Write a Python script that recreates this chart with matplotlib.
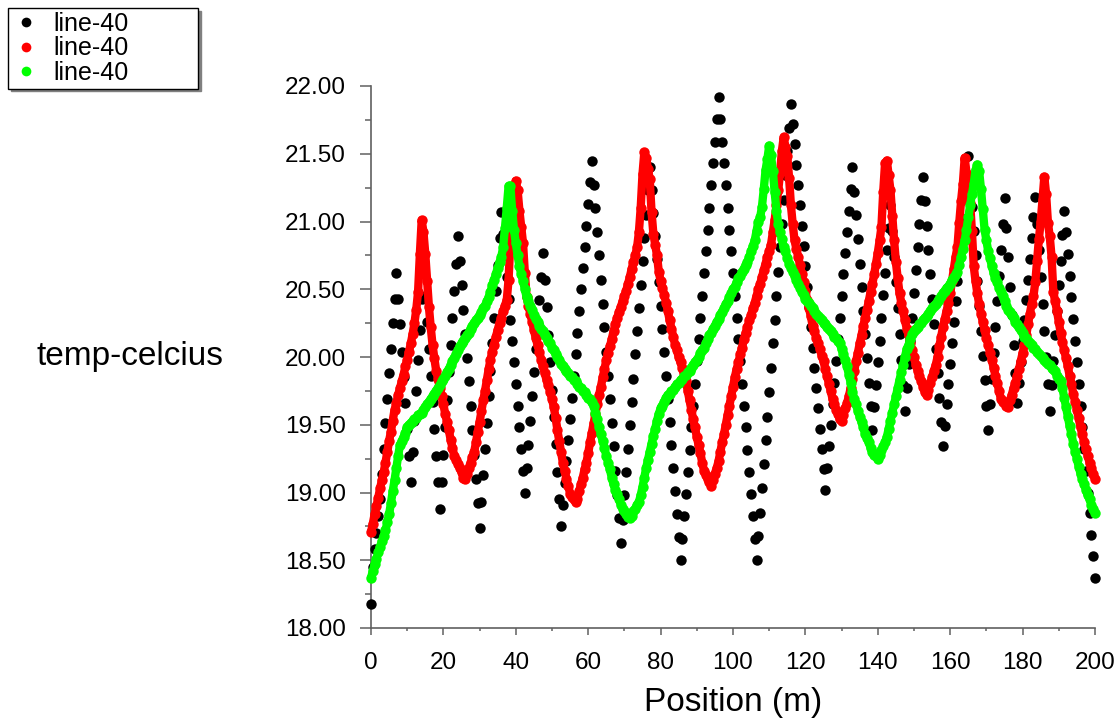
import numpy as np
import matplotlib
matplotlib.use("Agg")
import matplotlib.pyplot as plt
from matplotlib.lines import Line2D
from matplotlib.ticker import MultipleLocator, FormatStrFormatter

plt.rcParams['font.family'] = ['Liberation Sans', 'DejaVu Sans']

# ---- data (sampled every 0.5 m along the line, 0..200 m) ----
STEP = 0.5
black_temp = [
    18.18, 18.45, 18.58, 18.70, 18.83, 18.95, 19.14, 19.32, 19.51, 19.69, 19.88, 20.06, 20.25, 20.43, 20.62, 20.43, 20.24, 20.04, 19.85, 19.66,
    19.47, 19.27, 19.08, 19.30, 19.53, 19.75, 19.98, 20.20, 20.43, 20.65, 20.45, 20.26, 20.06, 19.86, 19.67, 19.47, 19.27, 19.08, 18.88, 19.08,
    19.28, 19.48, 19.68, 19.89, 20.09, 20.29, 20.49, 20.69, 20.89, 20.71, 20.53, 20.35, 20.17, 19.99, 19.82, 19.64, 19.46, 19.28, 19.10, 18.92,
    18.74, 18.93, 19.13, 19.32, 19.51, 19.71, 19.90, 20.10, 20.29, 20.49, 20.68, 20.88, 21.07, 20.91, 20.75, 20.59, 20.43, 20.27, 20.12, 19.96,
    19.80, 19.64, 19.48, 19.32, 19.16, 19.00, 19.18, 19.35, 19.53, 19.71, 19.89, 20.06, 20.24, 20.42, 20.59, 20.77, 20.57, 20.37, 20.16, 19.96,
    19.76, 19.56, 19.36, 19.15, 18.95, 18.75, 18.91, 19.07, 19.23, 19.39, 19.54, 19.70, 19.86, 20.02, 20.18, 20.34, 20.50, 20.66, 20.81, 20.97,
    21.13, 21.29, 21.45, 21.27, 21.10, 20.92, 20.75, 20.57, 20.39, 20.22, 20.04, 19.86, 19.69, 19.51, 19.34, 19.16, 18.98, 18.81, 18.63, 18.80,
    18.98, 19.15, 19.32, 19.50, 19.67, 19.84, 20.02, 20.19, 20.36, 20.53, 20.71, 20.88, 21.05, 21.23, 21.40, 21.23, 21.06, 20.89, 20.72, 20.55,
    20.38, 20.21, 20.04, 19.86, 19.69, 19.52, 19.35, 19.18, 19.01, 18.84, 18.67, 18.50, 18.66, 18.83, 18.99, 19.15, 19.31, 19.48, 19.64, 19.80,
    19.97, 20.13, 20.29, 20.45, 20.62, 20.78, 20.94, 21.10, 21.27, 21.43, 21.59, 21.76, 21.92, 21.76, 21.59, 21.43, 21.27, 21.10, 20.94, 20.78,
    20.62, 20.45, 20.29, 20.13, 19.97, 19.80, 19.64, 19.48, 19.31, 19.15, 18.99, 18.83, 18.66, 18.50, 18.68, 18.85, 19.03, 19.21, 19.39, 19.56,
    19.74, 19.92, 20.10, 20.27, 20.45, 20.63, 20.81, 20.98, 21.16, 21.34, 21.52, 21.69, 21.87, 21.72, 21.57, 21.42, 21.27, 21.12, 20.97, 20.82,
    20.67, 20.52, 20.37, 20.22, 20.07, 19.92, 19.77, 19.62, 19.47, 19.32, 19.17, 19.02, 19.18, 19.34, 19.50, 19.65, 19.81, 19.97, 20.13, 20.29,
    20.45, 20.61, 20.77, 20.92, 21.08, 21.24, 21.40, 21.22, 21.05, 20.87, 20.69, 20.52, 20.34, 20.17, 19.99, 19.81, 19.64, 19.46, 19.63, 19.79,
    19.96, 20.12, 20.29, 20.46, 20.62, 20.79, 20.95, 21.12, 20.93, 20.74, 20.55, 20.36, 20.17, 19.98, 19.79, 19.60, 19.77, 19.95, 20.12, 20.29,
    20.47, 20.64, 20.81, 20.98, 21.16, 21.33, 21.15, 20.97, 20.79, 20.61, 20.43, 20.24, 20.06, 19.88, 19.70, 19.52, 19.34, 19.49, 19.65, 19.80,
    19.95, 20.10, 20.26, 20.41, 20.56, 20.72, 20.87, 21.02, 21.17, 21.33, 21.48, 21.30, 21.11, 20.93, 20.75, 20.56, 20.38, 20.19, 20.01, 19.83,
    19.64, 19.46, 19.65, 19.84, 20.03, 20.22, 20.41, 20.60, 20.79, 20.98, 21.17, 20.95, 20.74, 20.52, 20.31, 20.09, 19.88, 19.66, 19.81, 19.96,
    20.12, 20.27, 20.42, 20.57, 20.72, 20.88, 21.03, 21.18, 20.98, 20.79, 20.59, 20.39, 20.19, 20.00, 19.80, 19.60, 19.79, 19.97, 20.16, 20.34,
    20.53, 20.71, 20.90, 21.08, 20.92, 20.76, 20.60, 20.44, 20.28, 20.12, 19.96, 19.80, 19.64, 19.48, 19.32, 19.16, 19.00, 18.85, 18.69, 18.53,
    18.37,
]
red_temp = [
    18.71, 18.77, 18.84, 18.90, 18.96, 19.03, 19.09, 19.15, 19.22, 19.30, 19.38, 19.45, 19.53, 19.61, 19.66, 19.72, 19.77, 19.82, 19.87, 19.93,
    19.98, 20.04, 20.10, 20.17, 20.25, 20.35, 20.48, 20.76, 21.01, 20.92, 20.76, 20.56, 20.37, 20.22, 20.09, 19.99, 19.90, 19.84, 19.77, 19.71,
    19.65, 19.58, 19.52, 19.46, 19.39, 19.33, 19.27, 19.24, 19.21, 19.18, 19.15, 19.11, 19.10, 19.14, 19.18, 19.22, 19.26, 19.30, 19.37, 19.45,
    19.52, 19.60, 19.68, 19.75, 19.83, 19.91, 19.98, 20.04, 20.09, 20.15, 20.20, 20.25, 20.29, 20.34, 20.38, 20.42, 20.57, 20.85, 21.05, 21.20,
    21.30, 21.23, 21.08, 20.96, 20.84, 20.62, 20.44, 20.38, 20.32, 20.26, 20.20, 20.14, 20.09, 20.04, 19.98, 19.93, 19.88, 19.83, 19.79, 19.74,
    19.69, 19.63, 19.55, 19.46, 19.38, 19.30, 19.22, 19.16, 19.10, 19.05, 18.99, 18.97, 18.95, 18.93, 18.95, 19.01, 19.06, 19.11, 19.17, 19.22,
    19.29, 19.37, 19.44, 19.51, 19.58, 19.65, 19.72, 19.78, 19.85, 19.91, 19.98, 20.03, 20.08, 20.13, 20.19, 20.24, 20.29, 20.33, 20.37, 20.41,
    20.45, 20.49, 20.54, 20.59, 20.65, 20.70, 20.75, 20.81, 20.92, 21.10, 21.35, 21.51, 21.47, 21.39, 21.31, 21.07, 20.91, 20.83, 20.75, 20.63,
    20.56, 20.51, 20.46, 20.40, 20.34, 20.27, 20.21, 20.15, 20.09, 20.05, 20.00, 19.96, 19.92, 19.88, 19.82, 19.75, 19.68, 19.61, 19.54, 19.48,
    19.41, 19.35, 19.29, 19.22, 19.16, 19.13, 19.10, 19.08, 19.05, 19.09, 19.14, 19.18, 19.23, 19.30, 19.37, 19.43, 19.50, 19.57, 19.64, 19.71,
    19.78, 19.85, 19.91, 19.96, 20.02, 20.07, 20.13, 20.18, 20.22, 20.27, 20.31, 20.36, 20.40, 20.45, 20.50, 20.54, 20.59, 20.64, 20.69, 20.74,
    20.78, 20.83, 20.92, 21.01, 21.12, 21.23, 21.36, 21.52, 21.62, 21.55, 21.48, 21.32, 21.12, 20.98, 20.86, 20.80, 20.74, 20.68, 20.61, 20.55,
    20.49, 20.42, 20.36, 20.30, 20.23, 20.19, 20.14, 20.10, 20.06, 20.01, 19.97, 19.91, 19.86, 19.80, 19.75, 19.69, 19.65, 19.61, 19.58, 19.54,
    19.53, 19.57, 19.62, 19.66, 19.71, 19.77, 19.84, 19.90, 19.97, 20.03, 20.10, 20.16, 20.23, 20.29, 20.35, 20.41, 20.48, 20.54, 20.61, 20.69,
    20.77, 20.86, 20.96, 21.22, 21.43, 21.45, 21.34, 21.23, 21.04, 20.86, 20.70, 20.58, 20.47, 20.40, 20.34, 20.27, 20.21, 20.16, 20.10, 20.05,
    20.00, 19.94, 19.90, 19.86, 19.82, 19.78, 19.74, 19.72, 19.76, 19.81, 19.85, 19.90, 19.94, 20.00, 20.08, 20.15, 20.22, 20.28, 20.34, 20.40,
    20.47, 20.56, 20.65, 20.74, 20.81, 20.99, 21.15, 21.28, 21.47, 21.36, 21.25, 21.14, 20.93, 20.67, 20.56, 20.47, 20.39, 20.32, 20.26, 20.20,
    20.14, 20.09, 20.03, 19.98, 19.92, 19.86, 19.81, 19.75, 19.69, 19.67, 19.66, 19.64, 19.63, 19.68, 19.72, 19.77, 19.81, 19.86, 19.91, 19.97,
    20.03, 20.09, 20.16, 20.24, 20.32, 20.39, 20.45, 20.55, 20.71, 20.87, 21.00, 21.16, 21.33, 21.20, 20.99, 20.89, 20.74, 20.48, 20.41, 20.34,
    20.26, 20.18, 20.11, 20.05, 19.99, 19.93, 19.86, 19.80, 19.73, 19.67, 19.61, 19.55, 19.48, 19.43, 19.37, 19.32, 19.27, 19.22, 19.18, 19.14,
    19.10,
]
green_temp = [
    18.37, 18.42, 18.47, 18.51, 18.56, 18.60, 18.64, 18.68, 18.72, 18.78, 18.84, 18.92, 19.01, 19.09, 19.18, 19.27, 19.35, 19.38, 19.41, 19.44,
    19.48, 19.50, 19.51, 19.53, 19.54, 19.55, 19.57, 19.58, 19.59, 19.61, 19.63, 19.65, 19.67, 19.69, 19.71, 19.73, 19.75, 19.77, 19.79, 19.82,
    19.84, 19.86, 19.89, 19.91, 19.94, 19.97, 19.99, 20.02, 20.05, 20.08, 20.10, 20.12, 20.14, 20.16, 20.18, 20.21, 20.23, 20.25, 20.27, 20.29,
    20.31, 20.33, 20.36, 20.38, 20.41, 20.44, 20.48, 20.53, 20.57, 20.61, 20.66, 20.70, 20.74, 20.81, 20.95, 21.10, 21.26, 21.26, 21.08, 20.94,
    20.84, 20.75, 20.67, 20.61, 20.56, 20.50, 20.44, 20.41, 20.38, 20.35, 20.31, 20.28, 20.26, 20.23, 20.21, 20.19, 20.16, 20.14, 20.12, 20.10,
    20.07, 20.05, 20.02, 20.00, 19.98, 19.95, 19.93, 19.91, 19.90, 19.88, 19.86, 19.85, 19.83, 19.82, 19.80, 19.78, 19.77, 19.75, 19.74, 19.72,
    19.70, 19.69, 19.67, 19.64, 19.59, 19.54, 19.48, 19.43, 19.38, 19.33, 19.27, 19.22, 19.17, 19.11, 19.06, 19.02, 18.99, 18.95, 18.91, 18.88,
    18.86, 18.84, 18.82, 18.81, 18.83, 18.86, 18.88, 18.91, 18.93, 18.98, 19.04, 19.11, 19.18, 19.24, 19.30, 19.36, 19.42, 19.47, 19.53, 19.58,
    19.62, 19.64, 19.67, 19.70, 19.72, 19.73, 19.75, 19.76, 19.78, 19.80, 19.81, 19.83, 19.84, 19.86, 19.87, 19.89, 19.90, 19.92, 19.94, 19.96,
    19.98, 20.00, 20.03, 20.05, 20.07, 20.10, 20.13, 20.16, 20.18, 20.21, 20.23, 20.26, 20.28, 20.31, 20.33, 20.36, 20.39, 20.41, 20.44, 20.47,
    20.50, 20.52, 20.55, 20.58, 20.60, 20.63, 20.65, 20.68, 20.70, 20.74, 20.78, 20.82, 20.86, 20.93, 21.00, 21.03, 21.11, 21.24, 21.38, 21.46,
    21.56, 21.49, 21.37, 21.22, 21.08, 20.98, 20.92, 20.87, 20.81, 20.78, 20.73, 20.69, 20.66, 20.63, 20.60, 20.57, 20.54, 20.51, 20.48, 20.46,
    20.43, 20.41, 20.40, 20.38, 20.36, 20.34, 20.32, 20.30, 20.29, 20.27, 20.25, 20.24, 20.22, 20.21, 20.19, 20.17, 20.15, 20.14, 20.12, 20.10,
    20.06, 20.02, 19.98, 19.93, 19.87, 19.81, 19.74, 19.69, 19.65, 19.60, 19.56, 19.52, 19.48, 19.43, 19.40, 19.37, 19.33, 19.30, 19.28, 19.27,
    19.25, 19.28, 19.31, 19.34, 19.37, 19.41, 19.47, 19.53, 19.59, 19.65, 19.71, 19.77, 19.83, 19.89, 19.94, 20.00, 20.06, 20.09, 20.13, 20.17,
    20.19, 20.21, 20.22, 20.24, 20.25, 20.27, 20.29, 20.30, 20.32, 20.34, 20.36, 20.38, 20.39, 20.41, 20.43, 20.45, 20.47, 20.49, 20.51, 20.52,
    20.54, 20.57, 20.59, 20.61, 20.63, 20.68, 20.74, 20.80, 20.86, 20.94, 21.03, 21.12, 21.20, 21.28, 21.38, 21.42, 21.37, 21.24, 21.09, 20.94,
    20.86, 20.78, 20.73, 20.67, 20.62, 20.58, 20.55, 20.51, 20.48, 20.45, 20.41, 20.38, 20.35, 20.33, 20.31, 20.29, 20.26, 20.24, 20.22, 20.20,
    20.18, 20.15, 20.14, 20.12, 20.10, 20.09, 20.07, 20.06, 20.04, 20.02, 20.01, 19.99, 19.98, 19.96, 19.95, 19.94, 19.92, 19.91, 19.90, 19.86,
    19.84, 19.82, 19.77, 19.70, 19.63, 19.56, 19.49, 19.43, 19.36, 19.30, 19.25, 19.19, 19.14, 19.10, 19.06, 19.02, 18.98, 18.95, 18.91, 18.88,
    18.85,
]
series_labels = ["line-40", "line-40", "line-40"]
x_label = "Position (m)"
y_label = "temp-celcius"

pos_black = np.arange(len(black_temp)) * STEP
pos_red = np.arange(len(red_temp)) * STEP
pos_green = np.arange(len(green_temp)) * STEP

W, H = 1117, 722
fig = plt.figure(figsize=(W / 100, H / 100), dpi=100)
ax = fig.add_axes([371 / W, 94 / H, 724 / W, 542 / H])

ms = 7.5
ax.plot(pos_black, black_temp, linestyle='none', marker='o', ms=ms, color='#000000',
        markeredgewidth=0, clip_on=False, zorder=3)
ax.plot(pos_red, red_temp, linestyle='-', lw=6.0, marker='o', ms=ms, color='#ff0000',
        markeredgewidth=0, clip_on=False, zorder=4, solid_capstyle='round',
        solid_joinstyle='round')
ax.plot(pos_green, green_temp, linestyle='-', lw=6.0, marker='o', ms=ms, color='#00ff00',
        markeredgewidth=0, clip_on=False, zorder=5, solid_capstyle='round',
        solid_joinstyle='round')

ax.set_xlim(0, 200)
ax.set_ylim(18, 22)
for s in ['top', 'right']:
    ax.spines[s].set_visible(False)
for s in ['left', 'bottom']:
    ax.spines[s].set_color('#606060')
    ax.spines[s].set_linewidth(1.2)

ax.xaxis.set_major_locator(MultipleLocator(20))
ax.xaxis.set_minor_locator(MultipleLocator(10))
ax.yaxis.set_major_locator(MultipleLocator(0.5))
ax.yaxis.set_minor_locator(MultipleLocator(0.25))
ax.yaxis.set_major_formatter(FormatStrFormatter('%.2f'))
ax.tick_params(axis='y', which='major', length=8, width=1.1, color='#606060', pad=10,
               labelsize=17.5, labelcolor='black')
ax.tick_params(axis='y', which='minor', length=4.3, width=1.1, color='#606060')
ax.tick_params(axis='x', which='major', length=5, width=1.1, color='#606060', pad=12,
               labelsize=17.5, labelcolor='black')
ax.tick_params(axis='x', which='minor', length=2.5, width=1.1, color='#606060')

ax.set_xlabel(x_label, fontsize=24, va='top')
ax.xaxis.set_label_coords(0.5, -0.108)
ax.set_ylabel(y_label, fontsize=24, rotation=0, ha='center', va='center')
ax.yaxis.set_label_coords(-0.333, 0.5)

handles = [Line2D([], [], linestyle='none', marker='o', ms=7, color=c, markeredgewidth=0)
           for c in ['#000000', '#ff0000', '#00ff00']]
leg = fig.legend(handles, series_labels, loc='upper left',
                 bbox_to_anchor=(8 / W, 1 - 85 / H, 190 / W, 77 / H), mode='expand',
                 borderaxespad=0, fontsize=18, frameon=True, fancybox=False,
                 edgecolor='black', handlelength=1.1, handletextpad=0.55,
                 labelspacing=0.02, borderpad=0.15,
                 shadow={'color': '#808080', 'alpha': 1.0})
leg.get_frame().set_linewidth(1.0)

fig.savefig('out.png', dpi=100)
